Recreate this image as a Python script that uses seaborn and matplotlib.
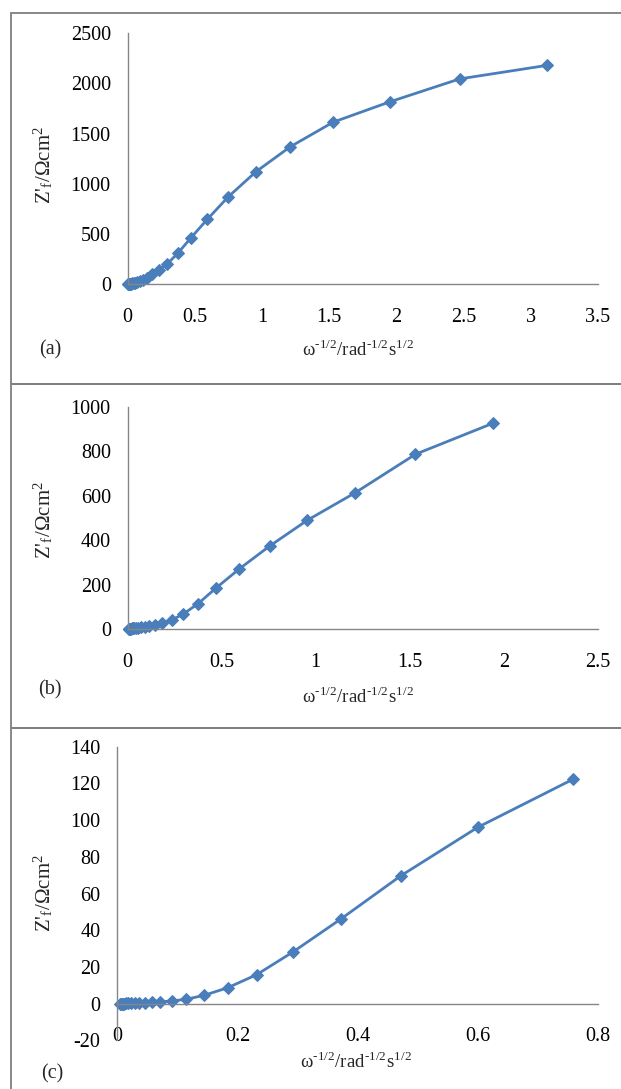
import matplotlib
matplotlib.use('Agg')
import matplotlib.pyplot as plt
import seaborn as sns
import pandas as pd
from matplotlib.patches import Rectangle

sns.set_theme(style='white')
plt.rcParams['font.family'] = ['Liberation Serif', 'DejaVu Serif']
plt.rcParams['mathtext.fontset'] = 'stix'
plt.rcParams['axes.unicode_minus'] = False

# ---- data ----
xa = [3.12, 2.47, 1.95, 1.53, 1.21, 0.955, 0.75, 0.595, 0.47, 0.374, 0.295, 0.233,
      0.185, 0.146, 0.116, 0.092, 0.073, 0.058, 0.046, 0.036, 0.029, 0.023, 0.018,
      0.015, 0.012, 0.009, 0.007, 0.006]
ya = [2180, 2045, 1816, 1614, 1368, 1119, 870, 647, 458, 306, 200, 135,
      95, 60, 42, 28, 18, 12, 8, 5, 3, 2, 1.5, 1, 0.7, 0.5, 0.3, 0.2]

xb = [1.94, 1.53, 1.21, 0.955, 0.755, 0.595, 0.47, 0.375, 0.296, 0.234,
      0.185, 0.146, 0.116, 0.092, 0.073, 0.058, 0.046, 0.036, 0.029, 0.023,
      0.018, 0.015, 0.012, 0.009, 0.007, 0.006]
yb = [925, 786, 613, 489, 373, 271, 184, 114, 67, 40,
      27, 18, 13, 10, 8, 6, 5, 4, 3, 2.5,
      2, 1.5, 1, 0.8, 0.5, 0.4]

xc = [0.758, 0.600, 0.472, 0.372, 0.293, 0.232, 0.184, 0.145, 0.115, 0.091,
      0.072, 0.0575, 0.0456, 0.036, 0.029, 0.023, 0.018, 0.0145, 0.0115, 0.009,
      0.0072, 0.0057, 0.0045]
yc = [122.2, 96.1, 69.7, 46.1, 28.3, 15.8, 8.7, 4.6, 2.4, 1.5,
      1.0, 0.7, 0.5, 0.4, 0.3, 0.25, 0.2, 0.15, 0.1, 0.1,
      0.05, 0.05, 0.0]

xticks_a = [0, 0.5, 1, 1.5, 2, 2.5, 3, 3.5]
xtlab_a = ['0', '0.5', '1', '1.5', '2', '2.5', '3', '3.5']
yticks_a = [0, 500, 1000, 1500, 2000, 2500]
xticks_b = [0, 0.5, 1, 1.5, 2, 2.5]
xtlab_b = ['0', '0.5', '1', '1.5', '2', '2.5']
yticks_b = [0, 200, 400, 600, 800, 1000]
xticks_c = [0, 0.2, 0.4, 0.6, 0.8]
xtlab_c = ['0', '0.2', '0.4', '0.6', '0.8']
yticks_c = [-20, 0, 20, 40, 60, 80, 100, 120, 140]

ylab = "Z'$_\\mathregular{f}$/\u03A9cm$^\\mathregular{2}$"
xlab = "\u03C9$^\\mathregular{\u20101/2}$/rad$^\\mathregular{\u20101/2}$s$^\\mathregular{1/2}$"

W, H = 621, 1089
fig = plt.figure(figsize=(W / 100, H / 100), dpi=100)

LINE = '#4A7EBB'
GRAY = '#868686'
FS = 14.5

panels = [
    dict(x=xa, y=ya, left=127.5, right=598, top=33.3, bottom=284, xlim=(0, 3.5), ylim=(0, 2500),
         xt=xticks_a, xtl=xtlab_a, yt=yticks_a, tag='(a)', tagpos=(50, 350), xlpos=(358, 350),
         ylx=44, yly=165, box=(13, 384)),
    dict(x=xb, y=yb, left=127.5, right=598, top=406.7, bottom=629, xlim=(0, 2.5), ylim=(0, 1000),
         xt=xticks_b, xtl=xtlab_b, yt=yticks_b, tag='(b)', tagpos=(50, 690), xlpos=(358, 697),
         ylx=44, yly=520, box=(384, 728)),
    dict(x=xc, y=yc, left=117.2, right=598, top=746.7, bottom=1040.4, xlim=(0, 0.8), ylim=(-20, 140),
         xt=xticks_c, xtl=xtlab_c, yt=yticks_c, tag='(c)', tagpos=(52, 1074), xlpos=(356, 1062),
         ylx=44, yly=893, box=(728, 1100)),
]

for p in panels:
    ax = fig.add_axes([p['left'] / W, 1 - p['bottom'] / H,
                       (p['right'] - p['left']) / W, (p['bottom'] - p['top']) / H])
    df = pd.DataFrame({'x': p['x'], 'y': p['y']})
    sns.lineplot(data=df, x='x', y='y', ax=ax, sort=False, estimator=None,
                 color=LINE, linewidth=2.0, marker='D', markersize=6.5,
                 markeredgecolor=LINE, markerfacecolor=LINE)
    for ln in ax.lines:
        ln.set_clip_on(False)
    ax.set_xlim(*p['xlim'])
    ax.set_ylim(*p['ylim'])
    ax.set_xticks(p['xt'])
    ax.set_xticklabels(p['xtl'])
    ax.set_yticks(p['yt'])
    ax.set_yticklabels([str(v) for v in p['yt']])
    ax.set_xlabel('')
    ax.set_ylabel('')
    ax.set_facecolor('none')
    for s in ['top', 'right']:
        ax.spines[s].set_visible(False)
    ax.spines['left'].set_color(GRAY)
    ax.spines['left'].set_linewidth(1.0)
    ax.spines['bottom'].set_color(GRAY)
    ax.spines['bottom'].set_linewidth(1.0)
    ax.spines['bottom'].set_position(('data', 0))
    ax.tick_params(axis='x', length=0, pad=17, labelsize=FS, colors='black')
    ax.tick_params(axis='y', length=0, pad=12, labelsize=FS, colors='black')
    ax.grid(False)

    fig.text(p['tagpos'][0] / W, 1 - p['tagpos'][1] / H, p['tag'], fontsize=FS,
             ha='center', va='center')
    fig.text(p['xlpos'][0] / W, 1 - p['xlpos'][1] / H, xlab, fontsize=13.5,
             ha='center', va='center')
    fig.text(p['ylx'] / W, 1 - p['yly'] / H, ylab, fontsize=15,
             ha='center', va='center', rotation=90)

    t, b = p['box']
    fig.add_artist(Rectangle((11 / W, 1 - b / H), (640 - 11) / W, (b - t) / H,
                             transform=fig.transFigure, fill=False,
                             edgecolor='#7F7F7F', linewidth=1.3))

fig.savefig('out.png', dpi=100, facecolor='white')
